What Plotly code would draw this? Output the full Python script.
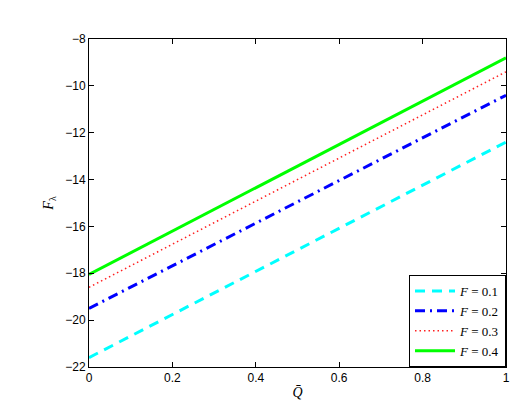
import plotly.graph_objects as go

# values (straight lines, endpoints at Q=0 and Q=1)
q = [0, 1]
f01 = [-21.6, -12.4]
f02 = [-19.5, -10.4]
f03 = [-18.6, -9.4]
f04 = [-18.05, -8.8]

labels = ["<i>F</i> = 0.1", "<i>F</i> = 0.2", "<i>F</i> = 0.3", "<i>F</i> = 0.4"]
series = [f01, f02, f03, f04]
styles = [
    dict(color="#00ffff", width=3, dash="10px,7px"),
    dict(color="#0000ff", width=3, dash="10px,5px,2px,5px"),
    dict(color="#ff2020", width=1.5, dash="1.5px,3px"),
    dict(color="#00ff00", width=3, dash="solid"),
]

fig = go.Figure()
for name, ys, st in zip(labels, series, styles):
    fig.add_trace(go.Scatter(x=q, y=ys, mode="lines", name=name, line=st))

axis_common = dict(
    showgrid=False, zeroline=False, showline=True, linecolor="black", linewidth=1,
    mirror="ticks", ticks="inside", ticklen=5, tickcolor="black",
    tickfont=dict(family="Liberation Sans, Arial", size=12, color="black"),
)

fig.update_xaxes(range=[0, 1], tickvals=[0, 0.2, 0.4, 0.6, 0.8, 1],
                 ticktext=["0", "0.2", "0.4", "0.6", "0.8", "1"],
                 title=dict(text="<i>Q\u0304</i>", standoff=2,
                            font=dict(family="Liberation Serif", size=14, color="black")),
                 **axis_common)
fig.update_yaxes(range=[-22, -8], tickvals=list(range(-22, -7, 2)),
                 ticktext=["\u221222", "\u221220", "\u221218", "\u221216", "\u221214", "\u221212", "\u221210", "\u22128"],
                 title=dict(text="<i>F</i><sub>λ</sub>", standoff=8,
                            font=dict(family="Liberation Serif", size=14, color="black")),
                 **axis_common)

fig.update_layout(
    width=522, height=406,
    margin=dict(l=81, r=24, t=31, b=47),
    paper_bgcolor="white", plot_bgcolor="white",
    legend=dict(x=1, y=0, xanchor="right", yanchor="bottom",
                bgcolor="white", bordercolor="black", borderwidth=1,
                font=dict(family="Liberation Serif", size=13, color="black"),
                tracegroupgap=0, itemwidth=40),
)

fig.write_html("out.html")
